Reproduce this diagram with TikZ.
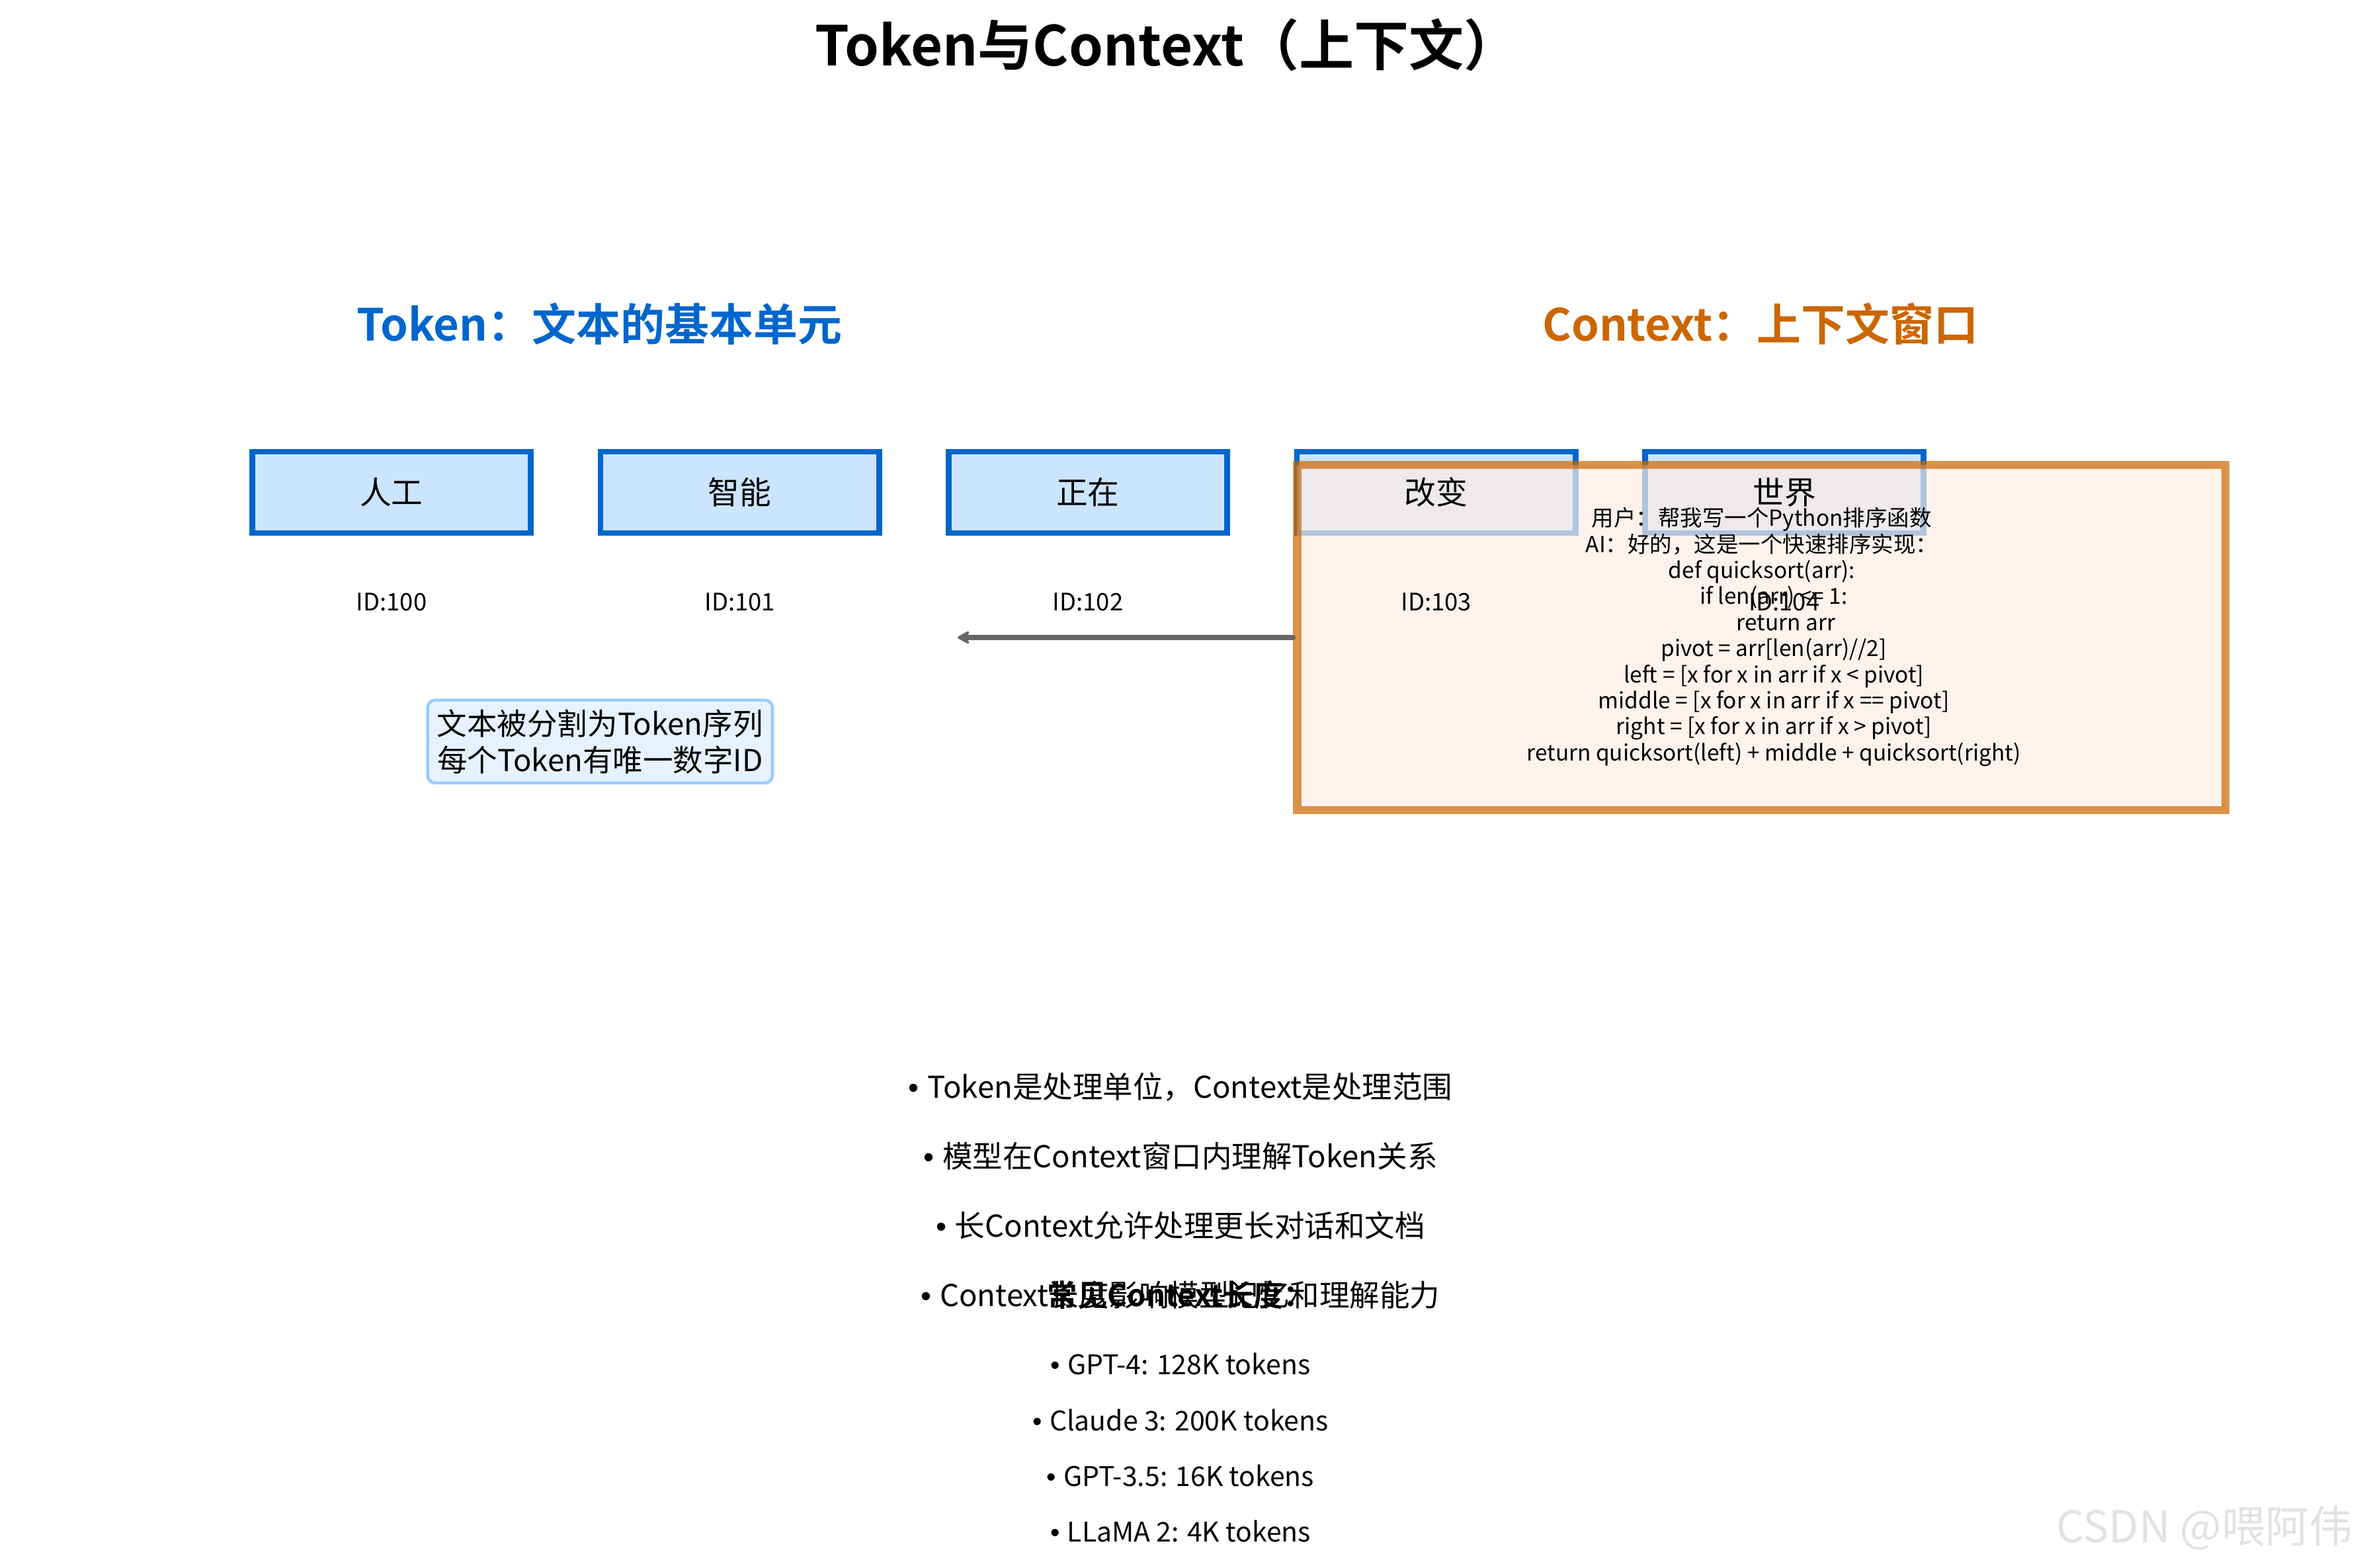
\documentclass[tikz,border=0pt]{standalone}
\usepackage{fontspec}
\setmainfont{Noto Sans CJK SC}[BoldFont={* Bold}]
\newfontfamily\dotfont{Liberation Sans}
\usepackage{tikz}
\usetikzlibrary{arrows.meta}
\definecolor{tokblue}{HTML}{0066CC}
\definecolor{tokfill}{HTML}{CCE5FF}
\definecolor{ctxorange}{HTML}{CC6600}
\definecolor{ctxfill}{RGB}{252,236,228}
\definecolor{notefill}{HTML}{E6F2FF}
\definecolor{noteline}{HTML}{99CCFF}
\definecolor{arrgray}{HTML}{666666}
\definecolor{wmgray}{RGB}{226,226,226}
\newcommand{\fsz}[2]{\fontsize{#1}{#2}\selectfont}
\newcommand{\bdot}{{\dotfont •\ }}

\begin{document}
\begin{tikzpicture}[x=1pt,y=-1pt,
    title/.style={font=\bfseries\fsz{36.5}{40}},
    head/.style={font=\bfseries\fsz{29.4}{36}},
    tok/.style={draw=tokblue,fill=tokfill,line width=3.8pt,minimum width=185pt,minimum height=54pt,inner sep=0pt},
    toktext/.style={font=\fsz{21}{24}},
    idtext/.style={font=\fsz{16}{19}},
    ctx/.style={draw=ctxorange,fill=ctxfill,opacity=0.7,line width=5.4pt,minimum width=616.5pt,minimum height=229.3pt,inner sep=0pt},
    code/.style={align=center,font=\fsz{14.7}{17.3}},
    note/.style={draw=noteline,fill=notefill,line width=2pt,rounded corners=5pt,minimum width=229pt,minimum height=55pt,inner sep=0pt,align=center,font=\fsz{20}{24}},
    bul/.style={font=\fsz{20}{24}},
    sub/.style={font=\bfseries\fsz{20}{24}},
    mdl/.style={font=\fsz{18}{22}},
    arr/.style={draw=arrgray,line width=3.4pt,line cap=round,-{Stealth[round,length=10pt,width=11pt,inset=3.5pt]}}]
    \useasboundingbox (0,0) rectangle (1568,1041);
    \node[title] (tt) at (775,30) {Token与Context（上下文）};
    \node[head,text=tokblue] (h1) at (398,215) {Token：文本的基本单元};
    \node[head,text=ctxorange] (h2) at (1169,215) {Context：上下文窗口};
    \node[tok] (t1) at (260,327) {};
    \node[tok] (t2) at (491.3,327) {};
    \node[tok] (t3) at (722.5,327) {};
    \node[tok] (t4) at (953.8,327) {};
    \node[tok] (t5) at (1185,327) {};
    \node[ctx] (ctx) at (1169.75,423.4) {};
    \coordinate (e) at (636,423.4);
    \draw[arr] (ctx.west) -- (e);
    \node[toktext] (w1) at (t1) {人工};
    \node[toktext] (w2) at (t2) {智能};
    \node[toktext] (w3) at (t3) {正在};
    \node[toktext] (w4) at (t4) {改变};
    \node[toktext] (w5) at (t5) {世界};
    \node[idtext] (i1) at (260,400) {ID:100};
    \node[idtext] (i2) at (491.3,400) {ID:101};
    \node[idtext] (i3) at (722.5,400) {ID:102};
    \node[idtext] (i4) at (953.8,400) {ID:103};
    \node[idtext] (i5) at (1185,400) {ID:104};
    \node[code] (c) at (1170,423) {用户：帮我写一个Python排序函数\\
        AI：好的，这是一个快速排序实现：\\
        def quicksort(arr):\\
        \hspace*{16pt}if len(arr) <= 1:\\
        \hspace*{32pt}return arr\\
        \hspace*{16pt}pivot = arr[len(arr)//2]\\
        \hspace*{16pt}left = [x for x in arr if x < pivot]\\
        \hspace*{16pt}middle = [x for x in arr if x == pivot]\\
        \hspace*{16pt}right = [x for x in arr if x > pivot]\\
        \hspace*{16pt}return quicksort(left) + middle + quicksort(right)};
    \node[note] (n) at (398.5,492.5) {文本被分割为Token序列\\每个Token有唯一数字ID};
    \node[bul] (b1) at (784,722) {\bdot Token是处理单位，Context是处理范围};
    \node[bul] (b2) at (784,768) {\bdot 模型在Context窗口内理解Token关系};
    \node[bul] (b3) at (784,814) {\bdot 长Context允许处理更长对话和文档};
    \node[bul] (b4) at (784,860) {\bdot Context长度影响模型记忆和理解能力};
    \node[sub] (k) at (784,860) {常见Context长度：};
    \node[mdl] (m1) at (784,906) {\bdot GPT-4: 128K tokens};
    \node[mdl] (m2) at (784,943) {\bdot Claude 3: 200K tokens};
    \node[mdl] (m3) at (784,980) {\bdot GPT-3.5: 16K tokens};
    \node[mdl] (m4) at (784,1017) {\bdot LLaMA 2: 4K tokens};
    \node[font=\fsz{29}{34},text=wmgray,anchor=east] (wm) at (1566,1015) {CSDN @喂阿伟};
\end{tikzpicture}
\end{document}
